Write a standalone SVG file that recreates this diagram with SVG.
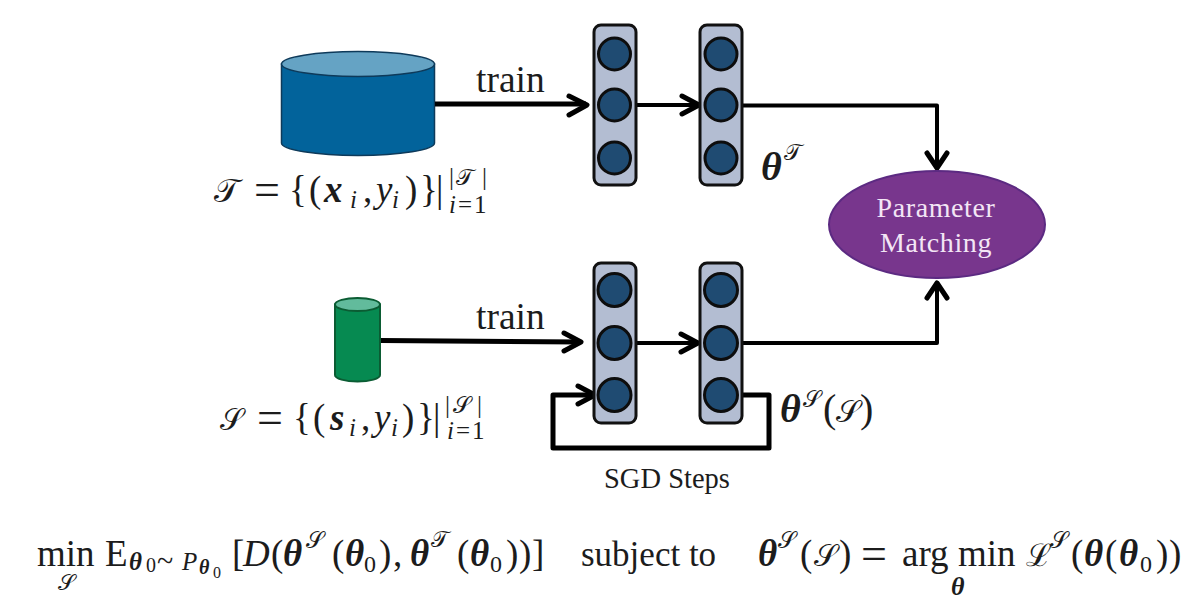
<svg xmlns="http://www.w3.org/2000/svg" width="1199" height="615" viewBox="0 0 1199 615">
<style>
text{font-family:"Liberation Serif","DejaVu Serif",serif;fill:#1c1c1c}
.t{font-size:37.500px}
.i{font-style:italic}
.b{font-weight:bold;font-style:italic}
.m{font-size:37px}
.s{font-size:25px}
.z{font-size:24px}
.q{font-size:20px}
.e{font-size:46px}
.col{fill:#b3bdd2;stroke:#111;stroke-width:3}
.dot{fill:#1f4b72;stroke:#0d0d0d;stroke-width:3}
.c{fill:none;stroke:#000;stroke-width:4;stroke-linejoin:round;stroke-linecap:round}
.c2{fill:none;stroke:#000;stroke-width:5;stroke-linejoin:round}
.h{fill:none;stroke:#000;stroke-width:5;stroke-linecap:round;stroke-linejoin:round}
</style>
<rect width="1199" height="615" fill="#fff"/>
<g id="dataset-t">
<path d="M281.500 64V143A76.500 12.500 0 0 0 434.500 143V64Z" fill="#02639b" stroke="#0e3a5a" stroke-width="1.500"/>
<ellipse cx="358" cy="64" rx="76.500" ry="12.500" fill="#65a3c4" stroke="#0e3a5a" stroke-width="1.500"/>
<text class="m" y="202"><tspan x="214" font-size="33">𝒯</tspan><tspan x="254" y="205" class="e">=</tspan><tspan x="289" y="202">{</tspan><tspan x="309">(</tspan><tspan x="324" class="b">x</tspan><tspan x="350" y="208" class="i s">i</tspan><tspan x="363" y="202">,</tspan><tspan x="376" class="i">y</tspan><tspan x="392" y="208" class="i s">i</tspan><tspan x="405" y="202">)</tspan><tspan x="420">}</tspan><tspan x="436">|</tspan></text>
<text class="s" y="185"><tspan x="449">|</tspan><tspan x="456" font-size="23">𝒯</tspan><tspan x="482">|</tspan></text>
<text class="s" y="213" letter-spacing="2" font-size="26"><tspan x="449" class="i">i</tspan><tspan>=1</tspan></text>
</g>
<g id="dataset-s">
<path d="M335 304.500V375A22.500 6.500 0 0 0 380 375V304.500Z" fill="#068a51" stroke="#0b5c33" stroke-width="2"/>
<ellipse cx="357.500" cy="304.500" rx="22.500" ry="6.500" fill="#62bb9c" stroke="#0b5c33" stroke-width="2"/>
<text class="m" y="430"><tspan x="220" font-size="30">𝒮</tspan><tspan x="257" y="433" class="e">=</tspan><tspan x="293" y="430">{</tspan><tspan x="313">(</tspan><tspan x="330" class="b">s</tspan><tspan x="349" y="436" class="i s">i</tspan><tspan x="361" y="430">,</tspan><tspan x="374" class="i">y</tspan><tspan x="391" y="436" class="i s">i</tspan><tspan x="402" y="430">)</tspan><tspan x="417">}</tspan><tspan x="433">|</tspan></text>
<text class="s" y="413"><tspan x="445">|</tspan><tspan x="453" font-size="23">𝒮</tspan><tspan x="477">|</tspan></text>
<text class="s" y="439" letter-spacing="2" font-size="26"><tspan x="447" class="i">i</tspan><tspan>=1</tspan></text>
</g>
<g id="connectors">
<path class="c2" d="M435 104H586"/><path class="h" d="M569 96L587 105L569 115"/>
<path class="c" d="M636 105H698"/><path class="h" d="M682 96L699 105L682 114"/>
<path class="c" d="M743 105.500H937V167"/><path class="h" d="M927 153L937 168L947 153"/>
<path class="c2" d="M381 340.500L580 342"/><path class="h" d="M564 333L581 342L564 351"/>
<path class="c" d="M631 343H698"/><path class="h" d="M681 334L698 343L681 352"/>
<path class="c" d="M743 343H937V283"/><path class="h" d="M927 298L937 283L947 298"/>
<path class="c2" d="M738 395H769V448H553V395H594"/><path class="h" d="M578 386L595 395L578 404"/>
</g>
<g id="net-t1"><rect class="col" x="594" y="25" width="42" height="160" rx="7"/><circle class="dot" cx="614.500" cy="54" r="16"/><circle class="dot" cx="614.500" cy="105" r="16"/><circle class="dot" cx="614.500" cy="158" r="16"/></g>
<g id="net-t2"><rect class="col" x="700" y="25" width="42" height="160" rx="7"/><circle class="dot" cx="721" cy="54" r="16"/><circle class="dot" cx="721" cy="105" r="16"/><circle class="dot" cx="721" cy="158" r="16"/></g>
<g id="net-s1"><rect class="col" x="594" y="263" width="42" height="160" rx="7"/><circle class="dot" cx="614.500" cy="290" r="16.500"/><circle class="dot" cx="614.500" cy="343" r="16.500"/><circle class="dot" cx="614.500" cy="395" r="16.500"/></g>
<g id="net-s2"><rect class="col" x="700" y="263" width="42" height="160" rx="7"/><circle class="dot" cx="721" cy="290" r="16.500"/><circle class="dot" cx="721" cy="343" r="16.500"/><circle class="dot" cx="721" cy="395" r="16.500"/></g>
<g id="matching">
<ellipse cx="937" cy="224.500" rx="108" ry="53.500" fill="#78368d" stroke="#5c2a82" stroke-width="2"/>
<text x="936" y="217" text-anchor="middle" font-size="28" letter-spacing=".6" style="fill:#f3e6f5">Parameter</text>
<text x="936" y="252" text-anchor="middle" font-size="28" letter-spacing=".6" style="fill:#f3e6f5">Matching</text>
</g>
<g id="labels">
<text x="476" y="92" class="t">train</text>
<text x="476" y="329" class="t">train</text>
<text x="761" y="180" font-size="40" class="b">θ</text><text x="784" y="160" font-size="23">𝒯</text>
<text x="780" y="422" font-size="40" class="b">θ</text><text x="803" y="407" font-size="23">𝒮</text><text y="422" font-size="40"><tspan x="823">(</tspan><tspan x="836" font-size="31">𝒮</tspan><tspan x="860">)</tspan></text>
<text x="604" y="488" font-size="28.500">SGD Steps</text>
</g>
<g id="formula">
<text class="m" y="566"><tspan x="37">min</tspan><tspan x="105">E</tspan></text>
<text x="58" y="590" font-size="22">𝒮</text>
<text y="570" class="s"><tspan x="129" class="b">θ</tspan><tspan x="146" class="q" y="572">0</tspan><tspan x="157" y="571" font-size="30">~</tspan><tspan x="182" y="570" class="i">P</tspan><tspan x="199" y="574" class="b q">θ</tspan><tspan x="213" y="578" font-size="16">0</tspan></text>
<text class="m" y="566"><tspan x="232">[</tspan><tspan x="243" class="i">D</tspan><tspan x="271">(</tspan><tspan x="283" class="b">θ</tspan><tspan x="332">(</tspan><tspan x="345" class="b">θ</tspan><tspan x="364" class="z" y="572">0</tspan><tspan x="379" y="566">)</tspan><tspan x="393">,</tspan><tspan x="410" class="b">θ</tspan><tspan x="457">(</tspan><tspan x="470" class="b">θ</tspan><tspan x="490" class="z" y="572">0</tspan><tspan x="506" y="566">)</tspan><tspan x="519">)</tspan><tspan x="532">]</tspan></text>
<text x="306" y="548" font-size="23">𝒮</text>
<text x="431" y="547" font-size="23">𝒯</text>
<text x="581" y="566" font-size="35">subject to</text>
<text class="m" y="566"><tspan x="758" class="b">θ</tspan><tspan x="800">(</tspan><tspan x="814" font-size="30">𝒮</tspan><tspan x="839">)</tspan><tspan x="861" y="569" class="e">=</tspan><tspan x="902" y="566">arg</tspan><tspan x="958">min</tspan><tspan x="1026" font-size="31">ℒ</tspan><tspan x="1071">(</tspan><tspan x="1084" class="b">θ</tspan><tspan x="1105">(</tspan><tspan x="1119" class="b">θ</tspan><tspan x="1140" class="z" y="572">0</tspan><tspan x="1156" y="566">)</tspan><tspan x="1169">)</tspan></text>
<text x="778" y="548" font-size="23">𝒮</text>
<text x="1050" y="548" font-size="23">𝒮</text>
<text x="951" y="595" font-size="26" class="b">θ</text>
</g>
</svg>
